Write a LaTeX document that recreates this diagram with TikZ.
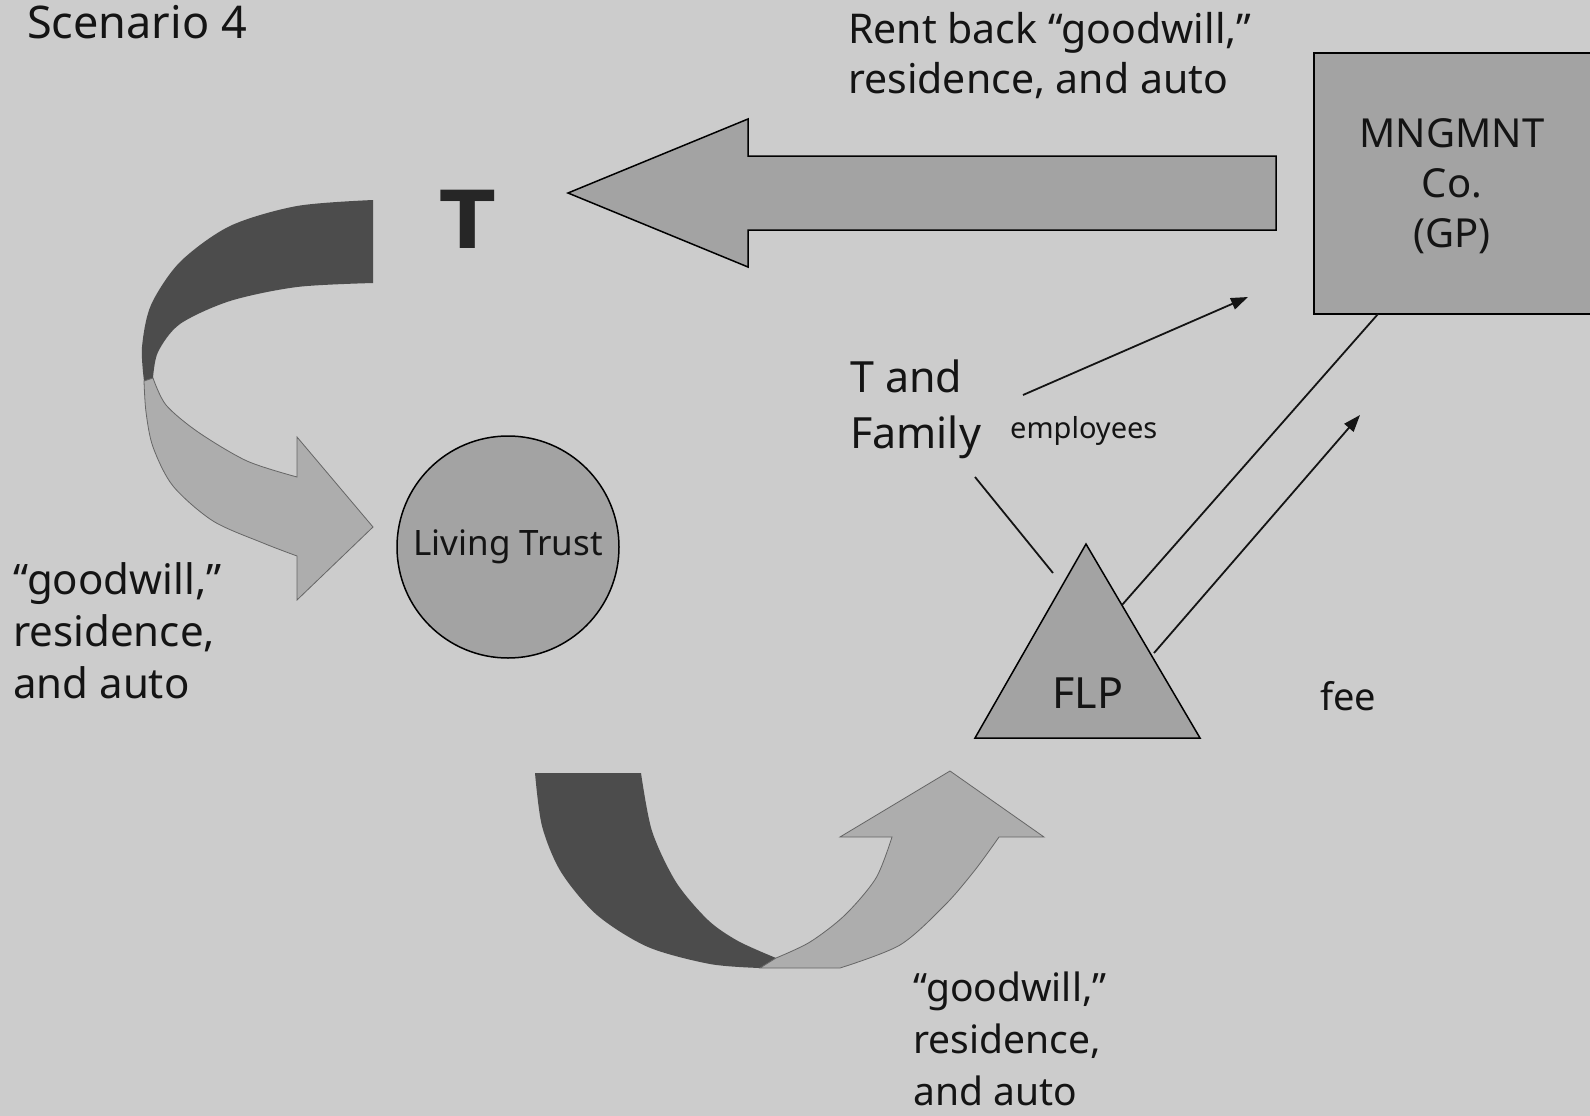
\documentclass[tikz,border=0pt]{standalone}
\usepackage{fontspec}
\setmainfont{Noto Sans}
\newfontfamily\heavyfont{DejaVu Sans}
\usetikzlibrary{arrows.meta}

\definecolor{paper}{gray}{0.80}
\definecolor{shade}{gray}{0.64}
\definecolor{ribbondark}{gray}{0.30}
\definecolor{ribbonlight}{gray}{0.68}
\definecolor{ink}{gray}{0.08}

\tikzset{
  txt/.style={inner sep=0pt, text=ink, align=left},
  solidshape/.style={fill=shade, draw=black, line width=1.5pt},
  ribbonedge/.style={draw=black!60, line width=0.8pt},
  link/.style={draw=ink, line width=1.8pt},
  linkarrow/.style={link, -{Triangle[length=17pt,width=12pt]}},
}

\begin{document}
\begin{tikzpicture}[x=1pt,y=-1pt]
\fill[paper] (0,0) rectangle (1590,1116);
\useasboundingbox (0,0) rectangle (1590,1116);

% title
\node[txt, anchor=base west, font=\fontsize{45}{55}\selectfont] (scen) at (27,39) {Scenario 4};

% rent-back block arrow
\draw[solidshape] (1276,156) -- (748,156) -- (748,119) -- (568,193)
  -- (748,267) -- (748,230) -- (1276,230) -- cycle;
% (the base anchor of a multi-line node sits on its last line)
\node[txt, anchor=base west, font=\fontsize{41}{50}\selectfont] (rent) at (848,93)
  {Rent back “goodwill,”\\residence, and auto};

% management company box
\draw[solidshape] (1314,53) rectangle (1596,314);
\node[txt, align=center, anchor=base, font=\fontsize{40}{50}\selectfont] (mgmt) at (1452,247)
  {MNGMNT\\Co.\\(GP)};

% the taxpayer
\node[txt, anchor=base, font=\fontsize{80}{90}\heavyfont\bfseries, text=black!85] (tp) at (468,248) {T};

% curved arrow from T to the living trust
\path[fill=ribbondark] plot[smooth] coordinates
    {(373,200) (297,206) (230,226) (180,262) (151,305) (142,347) (144,381)}
  -- plot[smooth] coordinates
    {(153,378) (158,352) (180,324) (230,301) (297,287) (373,283)} -- cycle;
\path[fill=ribbonlight, ribbonedge] plot[smooth] coordinates
    {(144,381) (146,412) (153,447) (173,486) (213,521) (263,543) (297,556)}
  -- (297,600) -- (373,527) -- (297,437)
  -- plot[smooth] coordinates
    {(297,477) (247,461) (198,432) (166,405) (153,378)} -- cycle;

% living trust
\node[solidshape, circle, minimum size=222pt, inner sep=0pt, text=ink,
  font=\fontsize{35}{40}\selectfont] (trust) at (508,547) {Living Trust};

\node[txt, anchor=base west, font=\fontsize{42}{52}\selectfont] (gwl) at (13,698)
  {“goodwill,”\\residence,\\and auto};

% curved arrow from the trust to the partnership
\path[fill=ribbondark] plot[smooth] coordinates
    {(535,773) (542,826) (561,872) (597,915) (648,947) (710,964) (760,968)}
  -- (776,958)
  -- plot[smooth] coordinates
    {(776,958) (738,941) (708,920) (676,882) (652,831) (641,773)} -- cycle;
\path[fill=ribbonlight, ribbonedge] (760,968) -- plot[smooth] coordinates
    {(840,968) (900,945) (945,905) (975,870) (999,837)}
  -- (1044,837) -- (950,771) -- (840,837) -- (892,837)
  -- plot[smooth] coordinates
    {(892,837) (876,878) (845,915) (810,942) (776,958)} -- cycle;

\node[txt, anchor=base west, font=\fontsize{39}{52}\selectfont] (gwb) at (913,1105)
  {“goodwill,”\\residence,\\and auto};

% family limited partnership
\draw[solidshape] (1086,544) -- (1200,738) -- (975,738) -- cycle;
\node[txt, anchor=base, font=\fontsize{43}{50}\selectfont] (flp) at (1088,708) {FLP};

% T and family, employees, fee
\node[txt, anchor=base west, font=\fontsize{43}{56}\selectfont] (fam) at (850,448)
  {T and\\Family};
\node[txt, anchor=base west, font=\fontsize{29}{35}\selectfont] (emp) at (1010,438) {employees};
\node[txt, anchor=base west, font=\fontsize{38}{45}\selectfont] (fee) at (1320,710) {fee};

% connectors
\coordinate (famtail) at (975,477);
\coordinate (flpnear) at (1053,573);
\coordinate (emptail) at (1023,395);
\coordinate (emphead) at (1248,297);
\coordinate (flpgp) at (1122,605);
\coordinate (gpfoot) at (1378,314);
\coordinate (flpfee) at (1154,653);
\coordinate (feehead) at (1360,415);

\draw[link] (famtail) -- (flpnear);
\draw[linkarrow] (emptail) -- (emphead);
\draw[link] (flpgp) -- (gpfoot);
\draw[linkarrow] (flpfee) -- (feehead);
\end{tikzpicture}
\end{document}
